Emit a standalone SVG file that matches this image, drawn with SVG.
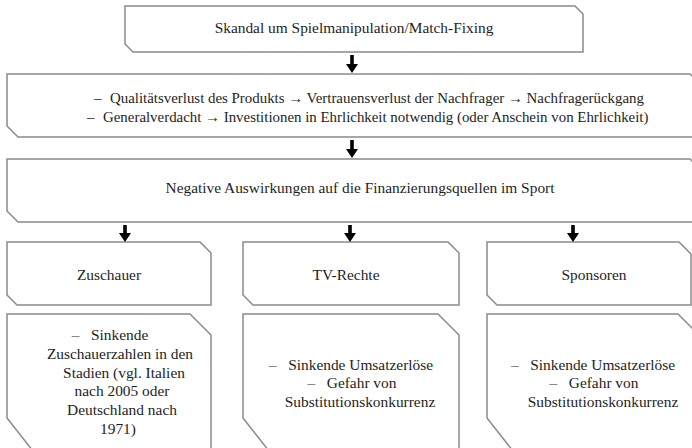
<svg xmlns="http://www.w3.org/2000/svg" width="692" height="448" viewBox="0 0 692 448">
<style>
.box{fill:#fff;stroke:#8a8a8a;stroke-width:1.5}
.t{font-family:'Liberation Serif','DejaVu Serif',serif;font-size:15.4px;fill:#1e1e1e}
.s{font-size:14.9px}
.m{text-anchor:middle}
.arr{fill:#000}
</style>
<rect width="692" height="448" fill="#fff"/>
<g id="n-skandal">
<path class="box" d="M125,6 H575 L583,14 V52 H133 L125,44 Z"/>
<text class="t m" x="354" y="33">Skandal um Spielmanipulation/Match-Fixing</text>
</g>
<g id="n-verlust">
<path class="box" d="M7,74 H690 L700,84 V137 H18 L7,126 Z"/>
<text class="t s" x="94" y="103">–<tspan x="110">Qualitätsverlust des Produkts → Vertrauensverlust der Nachfrager → Nachfragerückgang</tspan></text>
<text class="t s" x="87" y="122">–<tspan x="103">Generalverdacht → Investitionen in Ehrlichkeit notwendig (oder Anschein von Ehrlichkeit)</tspan></text>
</g>
<g id="n-negativ">
<path class="box" d="M7,159 H690 L700,169 V222 H18 L7,211 Z"/>
<text class="t m" x="360" y="193">Negative Auswirkungen auf die Finanzierungsquellen im Sport</text>
</g>
<g id="n-zuschauer">
<path class="box" d="M7,242 H200 L211,253 V305 H17 L7,295 Z"/>
<text class="t m" x="109" y="280">Zuschauer</text>
</g>
<g id="n-tv">
<path class="box" d="M243,242 H448 L459,253 V305 H253 L243,295 Z"/>
<text class="t m" x="346" y="280">TV-Rechte</text>
</g>
<g id="n-sponsoren">
<path class="box" d="M487,242 H679 L691,254 V305 H497 L487,295 Z"/>
<text class="t m" x="594" y="280">Sponsoren</text>
</g>
<g id="n-zuschauer-detail">
<path class="box" d="M7,314 H190 L211,335 V460 H40 L7,418 Z"/>
<text class="t m" x="110" y="340">–&#160;&#160; Sinkende</text>
<text class="t m" x="120" y="359">Zuschauerzahlen in den</text>
<text class="t m" x="124" y="378">Stadien (vgl. Italien</text>
<text class="t m" x="122" y="396">nach 2005 oder</text>
<text class="t m" x="122" y="415">Deutschland nach</text>
<text class="t m" x="118" y="434">1971)</text>
</g>
<g id="n-tv-detail">
<path class="box" d="M243,314 H438 L459,335 V460 H276 L243,418 Z"/>
<text class="t m" x="351" y="370">–&#160;&#160; Sinkende Umsatzerlöse</text>
<text class="t m" x="352" y="388">–&#160;&#160; Gefahr von</text>
<text class="t m" x="360" y="407">Substitutionskonkurrenz</text>
</g>
<g id="n-sponsoren-detail">
<path class="box" d="M487,314 H678 L699,335 V460 H520 L487,418 Z"/>
<text class="t m" x="593" y="370">–&#160;&#160; Sinkende Umsatzerlöse</text>
<text class="t m" x="594" y="388">–&#160;&#160; Gefahr von</text>
<text class="t m" x="603" y="407">Substitutionskonkurrenz</text>
</g>
<g id="connectors">
<path class="arr" d="M350.2,55 H353.8 V64 H358 L352,73 L346,64 H350.2 Z"/>
<path class="arr" d="M350.2,140 H353.8 V149 H358 L352,158 L346,149 H350.2 Z"/>
<path class="arr" d="M123.2,225 H126.8 V233 H131 L125,242 L119,233 H123.2 Z"/>
<path class="arr" d="M348.2,225 H351.8 V233 H356 L350,242 L344,233 H348.2 Z"/>
<path class="arr" d="M571.2,225 H574.8 V233 H579 L573,242 L567,233 H571.2 Z"/>
</g>
</svg>
